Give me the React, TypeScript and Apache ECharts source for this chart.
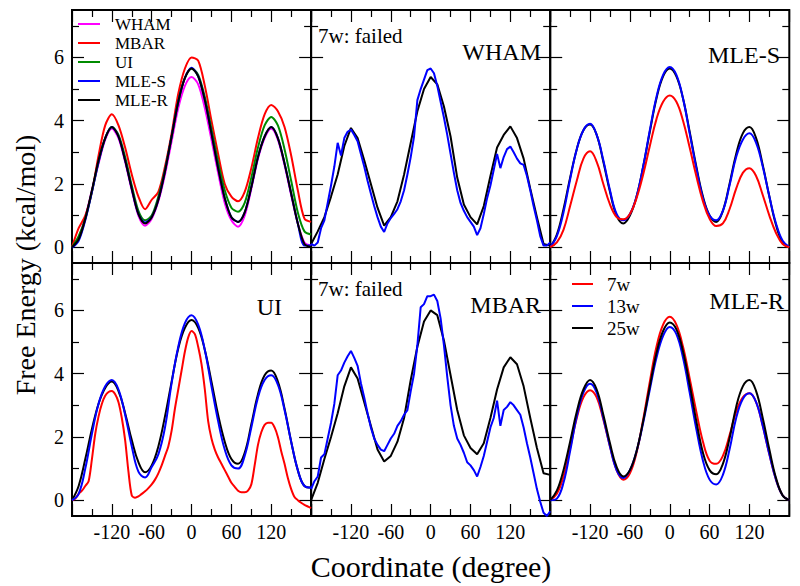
import React, { useEffect, useRef } from "react";
import * as echarts from "echarts";

// ---------- axes / categories ----------
const ANGLES_10 = [
  -180, -170, -160, -150, -140, -130, -120, -110, -100, -90, -80, -70,
  -60, -50, -40, -30, -20, -10, 0, 10, 20, 30, 40, 50,
  60, 70, 80, 90, 100, 110, 120, 130, 140, 150, 160, 170, 180,
];
const ANGLES_5 = [
  -180, -175, -170, -165, -160, -155, -150, -145, -140, -135, -130, -125,
  -120, -115, -110, -105, -100, -95, -90, -85, -80, -75, -70, -65,
  -60, -55, -50, -45, -40, -35, -30, -25, -20, -15, -10, -5,
  0, 5, 10, 15, 20, 25, 30, 35, 40, 45, 50, 55,
  60, 65, 70, 75, 80, 85, 90, 95, 100, 105, 110, 115,
  120, 125, 130, 135, 140, 145, 150, 155, 160, 165, 170, 175,
  180,
];
const X_TICK_LABELS = [-120, -60, 0, 60, 120];
const Y_MAJOR = [0, 2, 4, 6];
const Y_MINOR = [1, 3, 5, 7];

// ---------- panel 1: all methods ----------
const P1_WHAM = [0.0, 0.3, 0.95, 1.8, 2.65, 3.4, 3.75, 3.45, 2.7, 1.8, 1.0, 0.68, 0.9, 1.45, 2.3, 3.35, 4.4, 5.1, 5.38, 5.15, 4.4, 3.4, 2.35, 1.4, 0.85, 0.65, 1.0, 1.85, 2.8, 3.45, 3.75, 3.4, 2.6, 1.65, 0.75, 0.15, 0.05];
const P1_MBAR = [0.0, 0.6, 1.0, 1.75, 2.9, 3.85, 4.2, 3.85, 3.15, 2.3, 1.6, 1.2, 1.5, 1.75, 2.55, 3.6, 4.85, 5.65, 6.0, 5.9, 5.1, 4.0, 2.95, 2.0, 1.6, 1.45, 1.75, 2.5, 3.45, 4.2, 4.5, 4.3, 3.8, 2.9, 1.8, 0.9, 0.8];
const P1_UI = [0.0, 0.35, 0.9, 1.75, 2.7, 3.45, 3.8, 3.55, 2.85, 1.95, 1.15, 0.85, 1.0, 1.6, 2.45, 3.5, 4.6, 5.35, 5.65, 5.45, 4.75, 3.75, 2.7, 1.8, 1.25, 1.12, 1.4, 2.2, 3.15, 3.85, 4.12, 3.85, 3.1, 2.1, 1.1, 0.5, 0.4];
const P1_MLES = [-0.02, 0.2, 0.85, 1.75, 2.7, 3.45, 3.8, 3.5, 2.75, 1.85, 1.05, 0.78, 0.95, 1.5, 2.4, 3.5, 4.6, 5.35, 5.67, 5.4, 4.65, 3.6, 2.5, 1.55, 0.95, 0.8, 1.1, 1.9, 2.85, 3.5, 3.8, 3.45, 2.65, 1.7, 0.75, 0.05, 0.05];
const P1_MLER = [0.0, 0.25, 0.9, 1.8, 2.75, 3.45, 3.8, 3.5, 2.75, 1.85, 1.05, 0.75, 0.95, 1.5, 2.4, 3.5, 4.6, 5.35, 5.65, 5.4, 4.65, 3.6, 2.5, 1.55, 0.95, 0.8, 1.1, 1.9, 2.85, 3.5, 3.8, 3.45, 2.65, 1.7, 0.75, 0.1, 0.0];

// ---------- panel 2: WHAM ----------
const P2_25W = [0.1, 0.5, 0.95, 1.6, 2.3, 3.2, 3.77, 3.45, 2.75, 2.0, 1.25, 0.68, 0.95, 1.45, 2.3, 3.3, 4.3, 5.0, 5.38, 5.15, 4.45, 3.5, 2.2, 1.35, 0.95, 0.72, 1.3, 2.25, 3.15, 3.55, 3.82, 3.45, 2.8, 1.85, 0.95, 0.1, 0.05];
const P2_13W = [
  0.1, 0.05, 0.15, 0.6, 0.85, 1.4, 1.95, 2.55, 3.3, 2.9, 3.45, 3.65,
  3.72, 3.55, 3.35, 2.95, 2.55, 2.1, 1.7, 1.3, 0.95, 0.65, 0.48, 0.75,
  0.92, 1.05, 1.2, 1.45, 1.8, 2.3, 2.85, 3.5, 4.65, 5.0, 5.3, 5.6,
  5.65, 5.5, 5.1, 4.6, 4.1, 3.55, 2.95, 2.35, 1.8, 1.4, 1.15, 0.95,
  0.8, 0.65, 0.38, 0.6, 1.05, 1.55, 1.95, 2.45, 2.95, 2.5, 2.85, 3.1,
  3.18, 3.0, 2.8, 2.65, 2.6, 2.25, 1.8, 1.3, 0.85, 0.35, 0.05, 0.05,
  0.15,
];

// ---------- panel 3: MLE-S ----------
const P3_7W = [0.0, 0.15, 0.55, 1.3, 2.1, 2.8, 3.03, 2.7, 2.0, 1.35, 0.95, 0.88, 1.05, 1.55, 2.3, 3.2, 4.05, 4.6, 4.8, 4.6, 4.0, 3.15, 2.25, 1.45, 0.9, 0.67, 0.75, 1.2, 1.85, 2.35, 2.5, 2.25, 1.65, 1.0, 0.45, 0.1, 0.0];
const P3_13W = [0.0, 0.35, 1.1, 2.15, 3.1, 3.7, 3.9, 3.55, 2.75, 1.8, 1.05, 0.85, 1.05, 1.6, 2.55, 3.7, 4.75, 5.45, 5.7, 5.45, 4.7, 3.6, 2.5, 1.55, 1.0, 0.85, 1.15, 1.95, 2.85, 3.4, 3.6, 3.3, 2.55, 1.6, 0.75, 0.2, 0.0];
const P3_25W = [0.0, 0.4, 1.2, 2.2, 3.1, 3.7, 3.88, 3.55, 2.7, 1.75, 1.0, 0.75, 1.0, 1.6, 2.55, 3.65, 4.7, 5.4, 5.65, 5.4, 4.7, 3.65, 2.55, 1.6, 1.0, 0.8, 1.15, 2.0, 2.95, 3.6, 3.8, 3.45, 2.6, 1.6, 0.7, 0.15, 0.0];

// ---------- panel 4: UI ----------
const P4_7W = [
  0.0, 0.05, 0.2, 0.3, 0.45, 0.6, 1.3, 2.1, 2.65, 3.05, 3.3, 3.42,
  3.45, 3.35, 3.1, 2.6, 1.9, 0.9, 0.15, 0.08, 0.12, 0.2, 0.28, 0.38,
  0.5, 0.65, 0.85, 1.1, 1.4, 1.7, 2.2, 2.9, 3.5, 4.1, 4.7, 5.15,
  5.35, 5.25, 4.85, 4.3, 3.5, 2.5, 1.95, 1.6, 1.35, 1.15, 0.95, 0.75,
  0.55, 0.42, 0.3, 0.25, 0.25, 0.3, 0.5, 1.1, 1.75, 2.15, 2.38, 2.45,
  2.45, 2.3, 2.0, 1.55, 1.15, 0.7, 0.35, 0.1, 0.0, -0.08, -0.15, -0.2,
  -0.25,
];
const P4_13W = [0.0, 0.2, 1.0, 2.1, 3.05, 3.6, 3.8, 3.5, 2.7, 1.7, 0.9, 0.72, 1.05, 1.45, 2.3, 3.7, 4.85, 5.6, 5.85, 5.55, 4.75, 3.6, 2.5, 1.6, 1.1, 1.0, 1.4, 2.3, 3.25, 3.8, 3.95, 3.65, 2.85, 1.85, 0.95, 0.45, 0.4];
const P4_25W = [0.0, 0.45, 1.3, 2.25, 3.05, 3.55, 3.75, 3.45, 2.75, 1.9, 1.2, 0.88, 1.1, 1.7, 2.65, 3.75, 4.8, 5.45, 5.7, 5.45, 4.75, 3.75, 2.7, 1.85, 1.3, 1.15, 1.5, 2.4, 3.35, 3.95, 4.1, 3.75, 2.9, 1.85, 0.95, 0.45, 0.4];

// ---------- panel 5: MBAR ----------
const P5_25W = [0.0, 0.55, 1.3, 2.0, 2.75, 3.6, 4.2, 3.85, 3.1, 2.35, 1.6, 1.22, 1.4, 1.85, 2.6, 3.8, 4.85, 5.65, 6.0, 5.85, 5.05, 3.95, 2.85, 2.05, 1.65, 1.45, 1.8, 2.6, 3.5, 4.2, 4.52, 4.3, 3.6, 2.6, 1.65, 0.85, 0.8];
const P5_13W = [
  0.35, 0.6, 0.75, 1.35, 1.45, 1.95, 2.45, 3.05, 3.95, 4.1, 4.35, 4.55,
  4.72, 4.5, 4.25, 3.7, 3.25, 2.75, 2.3, 1.95, 1.75, 1.6, 1.55, 1.75,
  1.95, 2.1, 2.35, 2.5, 2.7, 2.85, 3.45, 4.0, 4.9, 6.1, 6.2, 6.45,
  6.45, 6.5, 6.3, 5.75, 4.9, 3.9, 3.0, 2.35, 1.95, 1.75, 1.5, 1.2,
  1.1, 0.95, 0.75, 1.05, 1.4, 1.85, 2.3, 2.6, 3.15, 2.35, 2.85, 2.95,
  3.1, 3.0, 2.85, 2.7, 2.3, 1.8, 1.35, 0.85, 0.35, -0.05, -0.4, -0.5,
  -0.35,
];

// ---------- panel 6: MLE-R ----------
const P6_7W = [0.0, 0.2, 0.75, 1.65, 2.6, 3.25, 3.48, 3.25, 2.55, 1.7, 0.95, 0.65, 0.85, 1.5, 2.55, 3.75, 4.85, 5.55, 5.8, 5.55, 4.85, 3.85, 2.8, 1.85, 1.25, 1.15, 1.4, 2.05, 2.8, 3.25, 3.38, 3.1, 2.35, 1.45, 0.65, 0.15, 0.0];
const P6_13W = [0.0, 0.05, 0.55, 1.55, 2.65, 3.4, 3.68, 3.4, 2.6, 1.7, 0.95, 0.7, 0.95, 1.55, 2.45, 3.5, 4.5, 5.2, 5.48, 5.25, 4.5, 3.4, 2.25, 1.25, 0.65, 0.5, 0.8, 1.6, 2.6, 3.2, 3.38, 3.1, 2.35, 1.45, 0.65, 0.15, 0.0];
const P6_25W = [0.0, 0.3, 0.95, 1.85, 2.8, 3.5, 3.8, 3.5, 2.7, 1.8, 1.05, 0.75, 0.95, 1.55, 2.5, 3.6, 4.65, 5.35, 5.62, 5.4, 4.7, 3.65, 2.5, 1.5, 0.95, 0.82, 1.15, 1.95, 2.95, 3.6, 3.8, 3.45, 2.6, 1.6, 0.7, 0.15, 0.0];

// ---------- styling ----------
const FONT = "'Liberation Serif', 'Times New Roman', Times, serif";
const MAGENTA = "#ff00ff";
const RED = "#ff0000";
const GREEN = "#008b00";
const BLUE = "#0000ff";
const BLACK = "#000000";

const LEFT = 72;
const COL_W = 239.1;
const TOP = 10;
const ROW_H = 253;

type SeriesDef = { name: string; color: string; x: number[]; y: number[]; smooth: number | boolean };

const PANELS: SeriesDef[][] = [
  [
    { name: "WHAM", color: MAGENTA, x: ANGLES_10, y: P1_WHAM, smooth: 0.3 },
    { name: "MBAR", color: RED, x: ANGLES_10, y: P1_MBAR, smooth: 0.3 },
    { name: "UI", color: GREEN, x: ANGLES_10, y: P1_UI, smooth: 0.3 },
    { name: "MLE-S", color: BLUE, x: ANGLES_10, y: P1_MLES, smooth: 0.3 },
    { name: "MLE-R", color: BLACK, x: ANGLES_10, y: P1_MLER, smooth: 0.3 },
  ],
  [
    { name: "25w", color: BLACK, x: ANGLES_10, y: P2_25W, smooth: false },
    { name: "13w", color: BLUE, x: ANGLES_5, y: P2_13W, smooth: false },
  ],
  [
    { name: "25w", color: BLACK, x: ANGLES_10, y: P3_25W, smooth: 0.4 },
    { name: "13w", color: BLUE, x: ANGLES_10, y: P3_13W, smooth: 0.4 },
    { name: "7w", color: RED, x: ANGLES_10, y: P3_7W, smooth: 0.4 },
  ],
  [
    { name: "7w", color: RED, x: ANGLES_5, y: P4_7W, smooth: 0.3 },
    { name: "25w", color: BLACK, x: ANGLES_10, y: P4_25W, smooth: 0.4 },
    { name: "13w", color: BLUE, x: ANGLES_10, y: P4_13W, smooth: 0.4 },
  ],
  [
    { name: "25w", color: BLACK, x: ANGLES_10, y: P5_25W, smooth: false },
    { name: "13w", color: BLUE, x: ANGLES_5, y: P5_13W, smooth: false },
  ],
  [
    { name: "7w", color: RED, x: ANGLES_10, y: P6_7W, smooth: 0.4 },
    { name: "13w", color: BLUE, x: ANGLES_10, y: P6_13W, smooth: 0.4 },
    { name: "25w", color: BLACK, x: ANGLES_10, y: P6_25W, smooth: 0.4 },
  ],
];

const LEGEND_1 = ["WHAM", "MBAR", "UI", "MLE-S", "MLE-R"];
const LEGEND_1_COLORS = [MAGENTA, RED, GREEN, BLUE, BLACK];
const LEGEND_6 = ["7w", "13w", "25w"];
const LEGEND_6_COLORS = [RED, BLUE, BLACK];

function buildOption() {
  const grid: any[] = [];
  const xAxis: any[] = [];
  const yAxis: any[] = [];
  const series: any[] = [];
  const tickLine = { color: "#000", width: 1.2 };

  PANELS.forEach((defs, g) => {
    const col = g % 3;
    const row = Math.floor(g / 3);
    grid.push({
      left: LEFT + col * COL_W,
      top: TOP + row * ROW_H,
      width: COL_W,
      height: ROW_H,
      show: true,
      borderColor: "#000",
      borderWidth: 2,
      backgroundColor: "transparent",
    });
    const xBase = {
      type: "value",
      gridIndex: g,
      min: -180,
      max: 180,
      interval: 60,
      axisLine: { show: false, onZero: false },
      splitLine: { show: false },
      axisTick: { show: true, inside: true, length: 12, lineStyle: tickLine },
      minorTick: { show: true, splitNumber: 2, length: 7, lineStyle: tickLine },
    };
    xAxis.push({
      ...xBase,
      position: "bottom",
      axisLabel:
        row === 1
          ? {
              show: true,
              color: "#000",
              fontFamily: FONT,
              fontSize: 20,
              margin: 6,
              showMinLabel: false,
              showMaxLabel: false,
              formatter: (v: number) => (X_TICK_LABELS.indexOf(v) >= 0 ? String(v) : ""),
            }
          : { show: false },
    });
    xAxis.push({ ...xBase, position: "top", axisLabel: { show: false } });

    const yBase = {
      type: "value",
      gridIndex: g,
      min: -0.5,
      max: 7.5,
      axisLine: { show: false, onZero: false },
      splitLine: { show: false },
    };
    const major = { show: true, inside: true, length: 12, customValues: Y_MAJOR, lineStyle: tickLine };
    const minor = { show: true, inside: true, length: 7, customValues: Y_MINOR, lineStyle: tickLine };
    yAxis.push({
      ...yBase,
      position: "left",
      axisTick: major,
      axisLabel:
        col === 0
          ? { show: true, customValues: Y_MAJOR, color: "#000", fontFamily: FONT, fontSize: 20, margin: 8 }
          : { show: false },
    });
    yAxis.push({ ...yBase, position: "left", axisTick: minor, axisLabel: { show: false } });
    yAxis.push({ ...yBase, position: "right", axisTick: major, axisLabel: { show: false } });
    yAxis.push({ ...yBase, position: "right", axisTick: minor, axisLabel: { show: false } });

    defs.forEach((s) => {
      series.push({
        type: "line",
        name: s.name,
        xAxisIndex: 2 * g,
        yAxisIndex: 4 * g,
        data: s.x.map((x, i) => [x, s.y[i]]),
        showSymbol: false,
        symbol: "none",
        smooth: s.smooth,
        silent: true,
        clip: true,
        lineStyle: { color: s.color, width: 2 },
        itemStyle: { color: s.color },
      });
    });
  });

  const text = (t: string, x: number, y: number, size: number, align = "left", extra: any = {}) => ({
    type: "text",
    x,
    y,
    silent: true,
    style: { text: t, fill: "#000", fontFamily: FONT, fontSize: size, align, verticalAlign: "middle" },
    ...extra,
  });

  const graphic: any[] = [];
  // legend panel 1
  LEGEND_1.forEach((name, i) => {
    const y = 24 + i * 19;
    graphic.push({ type: "line", silent: true, shape: { x1: 78, y1: y, x2: 100, y2: y }, style: { stroke: LEGEND_1_COLORS[i], lineWidth: 2 } });
    graphic.push(text(name, 115, y, 17));
  });
  // legend panel 6
  LEGEND_6.forEach((name, i) => {
    const y = 284 + i * 22;
    graphic.push({ type: "line", silent: true, shape: { x1: 572, y1: y, x2: 593, y2: y }, style: { stroke: LEGEND_6_COLORS[i], lineWidth: 2 } });
    graphic.push(text(name, 607, y, 19));
  });
  // panel titles
  graphic.push(text("WHAM", 541, 51.5, 24, "right"));
  graphic.push(text("MLE-S", 780, 54.5, 24, "right"));
  graphic.push(text("UI", 282, 306.5, 24, "right"));
  graphic.push(text("MBAR", 541, 304.5, 24, "right"));
  graphic.push(text("MLE-R", 784, 301, 24, "right"));
  graphic.push(text("7w: failed", 318, 35.5, 21));
  graphic.push(text("7w: failed", 318, 289, 21));
  // axis titles
  graphic.push(text("Coordinate (degree)", 431, 566, 30, "center"));
  graphic.push(text("Free Energy (kcal/mol)", 25, 265, 28, "center", { rotation: Math.PI / 2 }));

  return {
    animation: false,
    backgroundColor: "#ffffff",
    textStyle: { fontFamily: FONT },
    grid,
    xAxis,
    yAxis,
    series,
    graphic,
  };
}

export default function App() {
  const ref = useRef<HTMLDivElement>(null);
  useEffect(() => {
    if (!ref.current) return;
    const chart = echarts.init(ref.current, null, { renderer: "svg" });
    chart.setOption(buildOption() as any);
    return () => chart.dispose();
  }, []);
  return <div ref={ref} style={{ position: "absolute", left: 0, top: 0, width: 800, height: 586 }} />;
}
